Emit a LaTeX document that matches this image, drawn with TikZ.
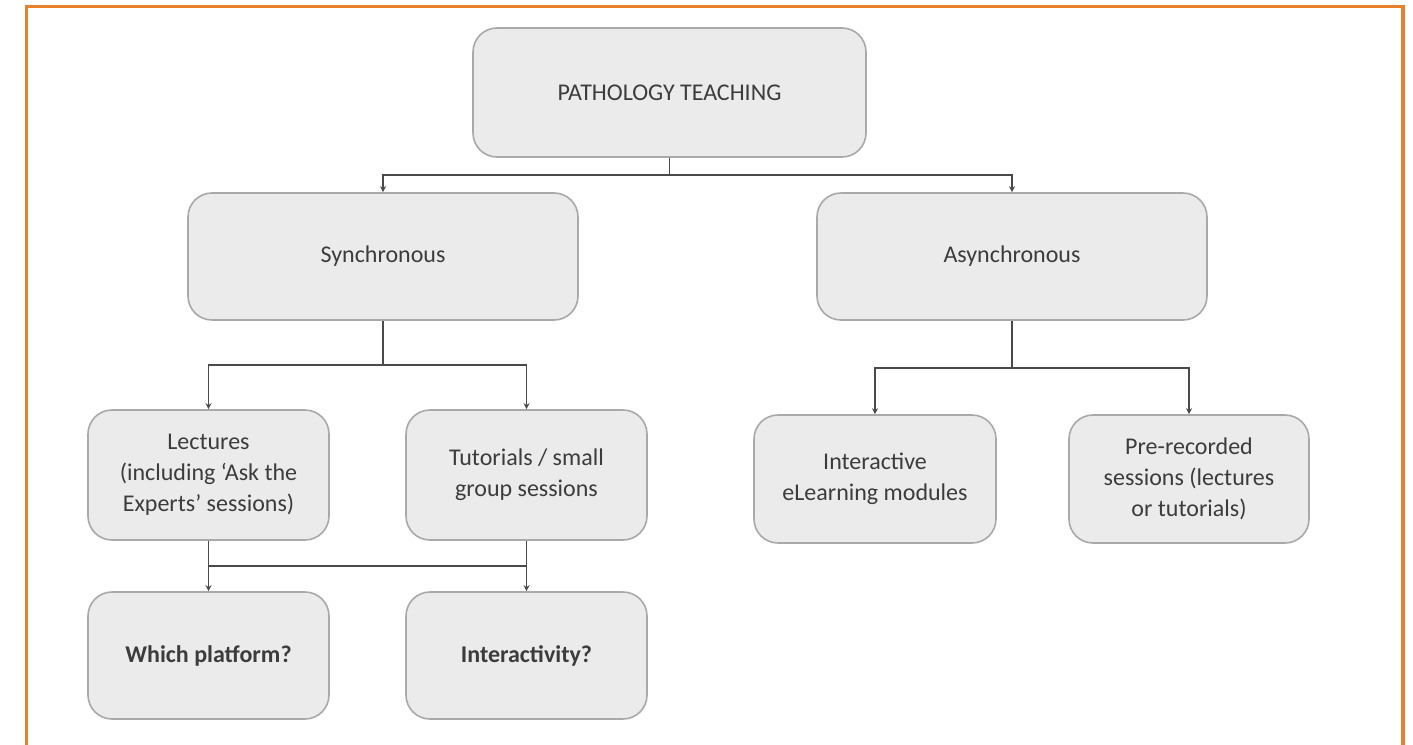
\documentclass[tikz,border=0pt]{standalone}
\usepackage{fontspec}
\setmainfont{Carlito}
\usetikzlibrary{arrows.meta}
\definecolor{frameor}{HTML}{E8812C}
\definecolor{boxfill}{HTML}{EBEBEB}
\definecolor{boxline}{HTML}{A9A9A9}
\definecolor{txt}{HTML}{3C3C3C}
\definecolor{conn}{HTML}{4A4A4A}
\begin{document}
\begin{tikzpicture}[x=1pt,y=-1pt,
  box/.style={draw=boxline, line width=1.6pt, fill=boxfill, rounded corners=24pt,
    align=center, text=txt, inner sep=4pt,
    font=\fontsize{24}{31}\selectfont},
  conline/.style={draw=conn, line width=1.7pt},
  arr/.style={conline, -{Stealth[length=6pt,width=6pt]}}]
\useasboundingbox (0,0) rectangle (1413,744);
\fill[white] (0,0) rectangle (1413,744);
\draw[frameor, line width=3.6pt] (26.5,760) -- (26.5,6.5) -- (1403,6.5) -- (1403,760);

\node[box, minimum width=393pt, minimum height=129pt] (pt) at (669.5,92.5) {PATHOLOGY TEACHING};
\node[box, minimum width=390pt, minimum height=127pt] (sync) at (383,256.5) {Synchronous};
\node[box, minimum width=390pt, minimum height=127pt] (async) at (1012,256.5) {Asynchronous};
\node[box, minimum width=241pt, minimum height=130pt] (lec) at (208.5,475) {Lectures\\(including ‘Ask the\\Experts’ sessions)};
\node[box, minimum width=241pt, minimum height=130pt] (tut) at (526.5,475) {Tutorials / small\\group sessions};
\node[box, minimum width=242pt, minimum height=128pt] (elearn) at (875,479) {Interactive\\eLearning modules};
\node[box, minimum width=240pt, minimum height=128pt] (prerec) at (1189,479) {Pre-recorded\\sessions (lectures\\or tutorials)};
\node[box, minimum width=241pt, minimum height=127pt, font=\fontsize{24}{31}\selectfont\bfseries] (which) at (208.5,655.5) {Which platform?};
\node[box, minimum width=241pt, minimum height=127pt, font=\fontsize{24}{31}\selectfont\bfseries] (interq) at (526.5,655.5) {Interactivity?};

\coordinate (j1) at (669.5,175);
\coordinate (j2) at (383,365);
\coordinate (j3) at (1012,368);
\coordinate (j4) at (208.5,566);

\draw[conline] (pt.south) -- (j1);
\draw[arr] (j1) -| (sync.north);
\draw[arr] (j1) -| (async.north);

\draw[conline] (sync.south) -- (j2);
\draw[arr] (j2) -| (lec.north);
\draw[arr] (j2) -| (tut.north);

\draw[conline] (async.south) -- (j3);
\draw[arr] (j3) -| (elearn.north);
\draw[arr] (j3) -| (prerec.north);

\draw[arr] (lec.south) -- (which.north);
\draw[arr] (tut.south) -- (interq.north);
\draw[conline] (j4) -- (tut.south |- j4);
\end{tikzpicture}
\end{document}
